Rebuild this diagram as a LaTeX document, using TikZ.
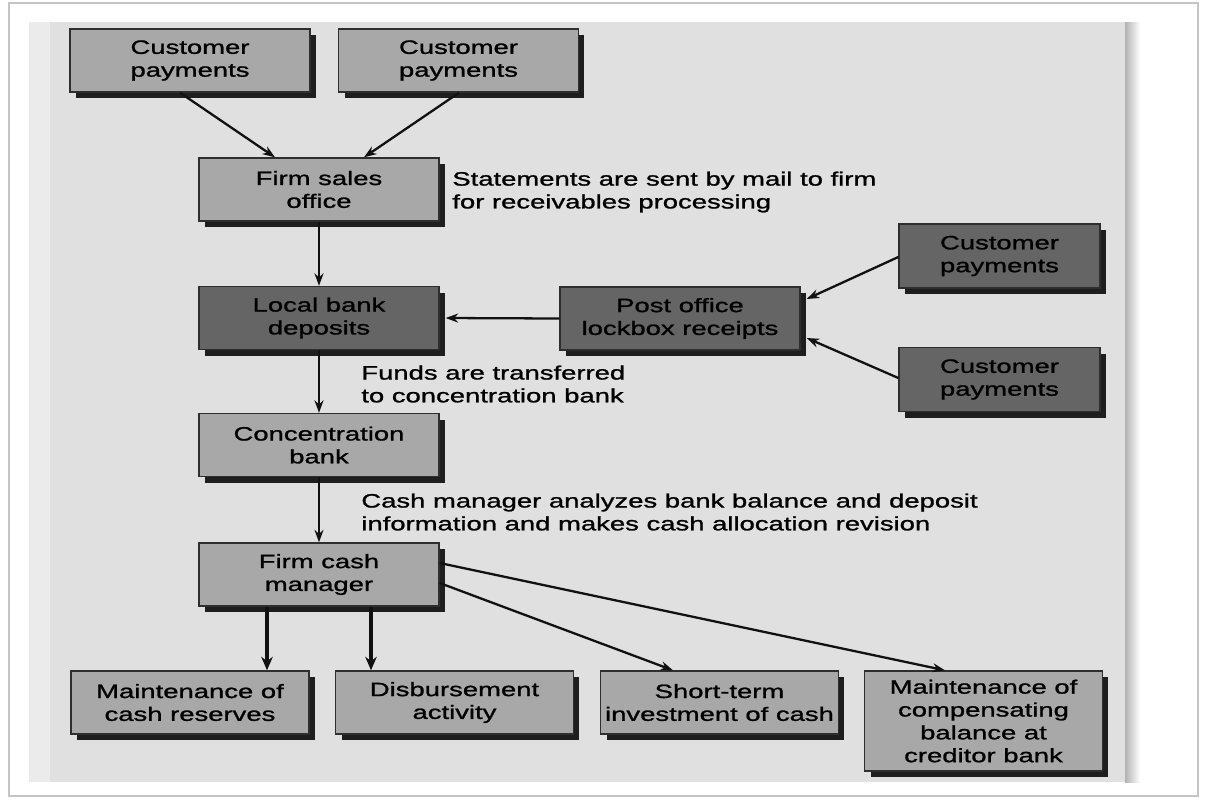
\documentclass[tikz,border=0pt]{standalone}
\usepackage{fontspec}
\setmainfont{Liberation Sans}[FakeStretch=1.42,FakeBold=1.2]
\usetikzlibrary{arrows.meta,shadows,calc}
\definecolor{panel}{HTML}{E0E0E0}
\definecolor{panelband}{HTML}{EBEBEB}
\definecolor{framec}{HTML}{C4C4C4}
\definecolor{boxlight}{HTML}{A8A8A8}
\definecolor{boxdark}{HTML}{656565}
\definecolor{boxline}{HTML}{2E2E2E}
\definecolor{shadowc}{HTML}{1E1E1E}
\definecolor{arrowc}{HTML}{111111}
\begin{document}
\begin{tikzpicture}[x=0.02cm,y=-0.02cm,
  box/.style={draw=boxline, line width=0.8pt, fill=boxlight,
    minimum width=4.8cm, minimum height=1.26cm, inner sep=0pt,
    align=center, font=\fontsize{11}{13}\selectfont,
    drop shadow={shadow xshift=0.12cm, shadow yshift=-0.12cm,
      fill=shadowc, opacity=1}},
  darkbox/.style={box, fill=boxdark},
  flow/.style={draw=arrowc, line width=1.3pt,
    -{Stealth[length=0.25cm,width=0.18cm]}},
  heavy/.style={draw=arrowc, line width=2.4pt,
    -{Stealth[length=0.27cm,width=0.23cm]}},
  note/.style={anchor=west, inner sep=0pt, align=left,
    font=\fontsize{11}{13}\selectfont}]

% page and panel
\useasboundingbox (0,0) rectangle (1213,799);
\fill[white] (0,0) rectangle (1213,799);
\draw[framec, line width=0.6pt] (9,3) rectangle (1198,796);
\fill[panel] (29,22) rectangle (1125,782);
\fill[panelband] (29,22) rectangle (50,782);
\shade[left color=black!30, right color=white] (1125,22) rectangle (1140,782);

% boxes
\node[box] (cp1) at (190,60.5) {Customer\\payments};
\node[box] (cp2) at (458.5,60.5) {Customer\\payments};
\node[box] (fso) at (319,189.5) {Firm sales\\office};
\node[darkbox] (lbd) at (319,318) {Local bank\\deposits};
\node[darkbox] (po) at (680,318.5) {Post office\\lockbox receipts};
\node[darkbox, minimum width=4.02cm, minimum height=1.28cm] (cp3) at (999.5,256) {Customer\\payments};
\node[darkbox, minimum width=4.02cm, minimum height=1.28cm] (cp4) at (999.5,379.5) {Customer\\payments};
\node[box] (cb) at (319,445) {Concentration\\bank};
\node[box] (fcm) at (319,574.5) {Firm cash\\manager};
\node[box, minimum width=4.76cm] (b1) at (190,702.5) {Maintenance of\\cash reserves};
\node[box, minimum width=4.76cm] (b2) at (454.5,702.5) {Disbursement\\activity};
\node[box, minimum width=4.76cm] (b3) at (719.5,702.5) {Short-term\\investment of cash};
\node[box, minimum width=4.76cm, minimum height=2cm] (b4) at (983.5,721) {Maintenance of\\compensating\\balance at\\creditor bank};

% notes
\node[note] (n1) at (452,192) {Statements are sent by mail to firm\\for receivables processing};
\node[note] (n2) at (361,384) {Funds are transferred\\to concentration bank};
\node[note] (n3) at (361,512) {Cash manager analyzes bank balance and deposit\\information and makes cash allocation revision};

% connectors
\draw[flow] ($(cp1.south)+(-10,0)$) -- ($(fso.north)+(-44,0)$);
\draw[flow] ($(cp2.south)+(0.5,0)$) -- ($(fso.north)+(45,0)$);
\draw[flow] (fso.south) -- (lbd.north);
\draw[flow] (po.west) -- ($(lbd.east)+(6,0)$);
\draw[flow] ($(cp3.west)+(0,1)$) -- ($(po.east)+(6,-19.5)$);
\draw[flow] ($(cp4.west)+(0,-1.5)$) -- ($(po.east)+(6,19.5)$);
\draw[flow] (lbd.south) -- (cb.north);
\draw[flow] (cb.south) -- (fcm.north);
\draw[heavy] ($(fcm.south)+(-52,0)$) -- ($(b1.north)+(77,0)$);
\draw[heavy] ($(fcm.south)+(52,0)$) -- ($(b2.north)+(-83.5,0)$);
\draw[flow] ($(fcm.east)+(0,8.5)$) -- ($(b3.north)+(-46.5,0)$);
\draw[flow] ($(fcm.east)+(0,-11.5)$) -- ($(b4.north)+(-38.5,0)$);
\end{tikzpicture}
\end{document}
